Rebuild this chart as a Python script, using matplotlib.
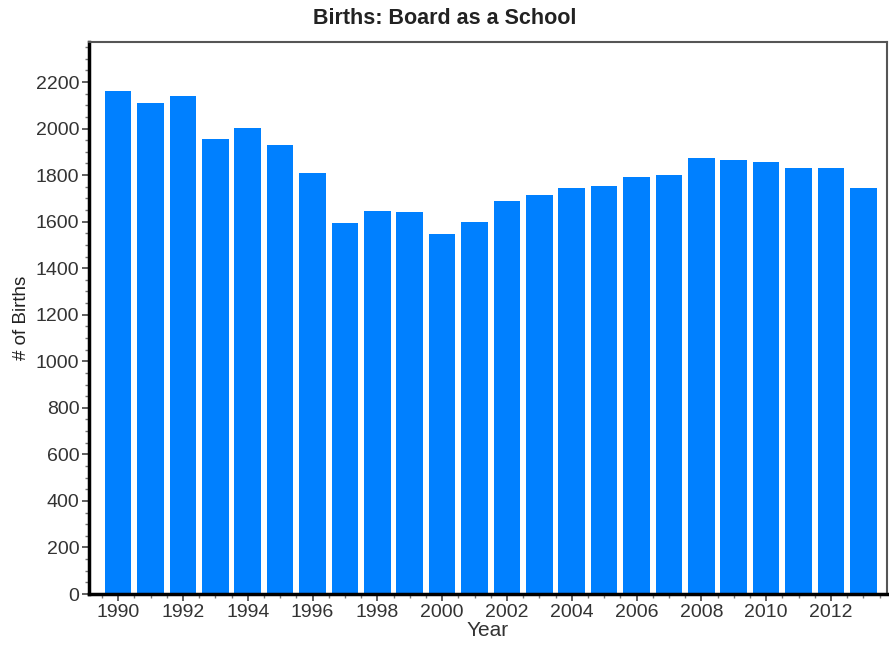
import numpy as np
import matplotlib.pyplot as plt
from matplotlib.ticker import MultipleLocator

plt.rcParams['font.family'] = ['Liberation Sans', 'DejaVu Sans']

years = list(range(1990, 2014))
births = [2163, 2109, 2140, 1954, 2003, 1930, 1808, 1593, 1647, 1640, 1546, 1600,
          1689, 1713, 1745, 1753, 1793, 1802, 1872, 1865, 1856, 1832, 1832, 1745]

fig = plt.figure(figsize=(8.89, 6.56), dpi=100)
ax = fig.add_axes([0.1001, 0.0945, 0.8977, 0.8415])

ax.bar(years, births, width=0.82, color='#0080ff')

ax.set_xlim(1989.1, 2013.73)
ax.set_ylim(0, 2372)
ax.xaxis.set_major_locator(MultipleLocator(2))
ax.xaxis.set_minor_locator(MultipleLocator(0.5))
ax.yaxis.set_major_locator(MultipleLocator(200))
ax.yaxis.set_minor_locator(MultipleLocator(50))
ax.tick_params(axis='both', which='major', length=5, width=1.2, color='#444444',
               labelsize=14, labelcolor='#333333', pad=2)
ax.tick_params(axis='both', which='minor', length=3, width=1, color='#777777')

ax.spines['left'].set_linewidth(2.5)
ax.spines['bottom'].set_linewidth(2.5)
ax.spines['top'].set_color('#555555')
ax.spines['right'].set_color('#555555')
ax.spines['top'].set_linewidth(1.5)
ax.spines['right'].set_linewidth(1.5)

# title is centred on the whole figure, not the axes
fig.text(0.5, 0.972, 'Births: Board as a School', fontsize=15.5, fontweight='bold',
         color='#222222', ha='center', va='center')
ax.set_xlabel('Year', fontsize=15, color='#333333', labelpad=0)
ax.set_ylabel('# of Births', fontsize=13.5, color='#222222', labelpad=4)

fig.savefig('out.png', dpi=100)
